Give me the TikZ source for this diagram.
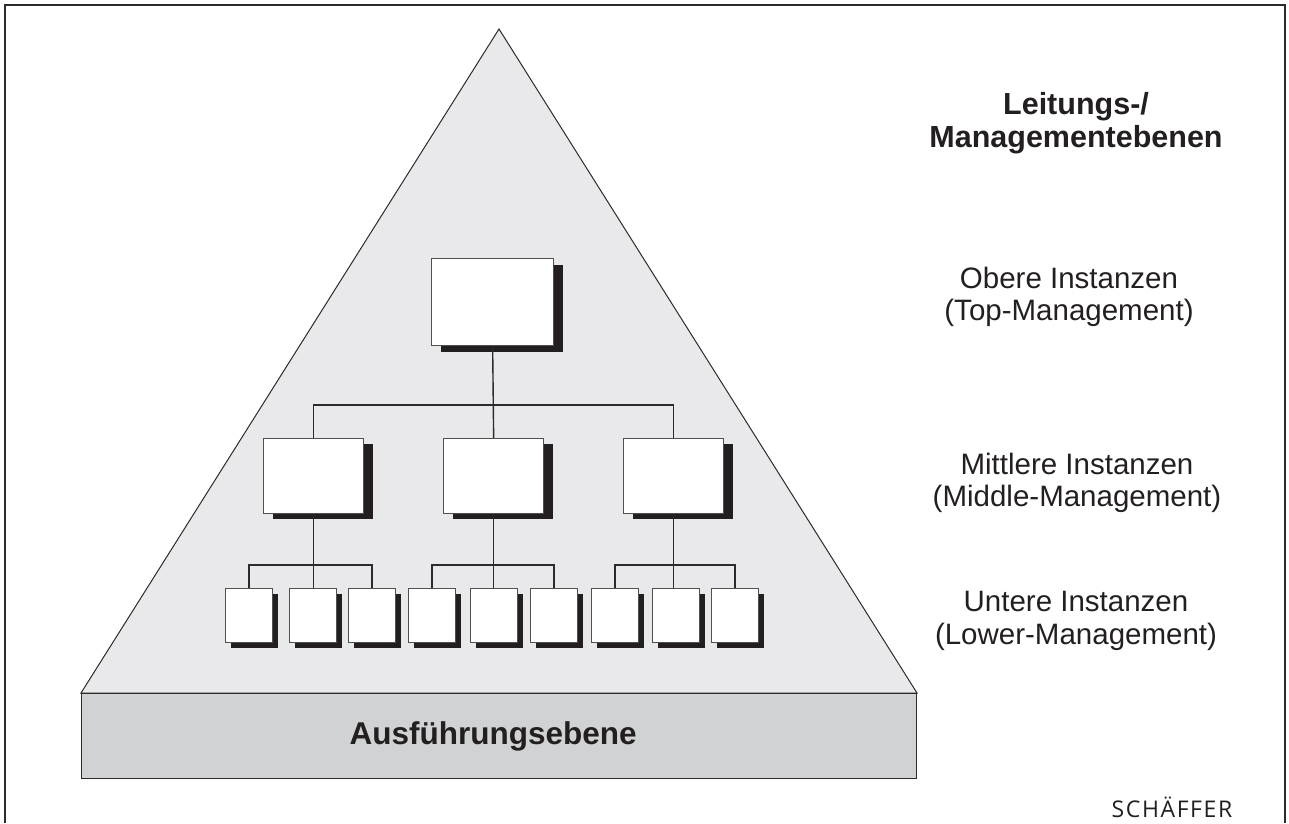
\documentclass[tikz,border=0pt]{standalone}
\usepackage{fontspec}
\setmainfont{Liberation Sans}
\newfontfamily\logofont[LetterSpace=7]{Open Sans}
\usetikzlibrary{shadows}
\definecolor{pyrfill}{HTML}{E9E9EB}
\definecolor{basefill}{HTML}{D1D2D4}
\definecolor{ink}{HTML}{2B2B2B}
\definecolor{textink}{HTML}{231F20}
\definecolor{boxedge}{HTML}{505050}
\definecolor{shade}{HTML}{231F20}

\begin{document}
\begin{tikzpicture}[x=1pt,y=-1pt,
  unit/.style={draw=boxedge, line width=1.3pt, fill=white, inner sep=0pt, anchor=north west},
  bigbox/.style={unit, minimum width=122pt, minimum height=87pt,
    drop shadow={shadow xshift=9pt, shadow yshift=-6pt, fill=shade, opacity=1}},
  midbox/.style={unit, minimum width=100pt, minimum height=75pt,
    drop shadow={shadow xshift=9pt, shadow yshift=-5pt, fill=shade, opacity=1}},
  smallbox/.style={unit, minimum width=47pt, minimum height=54pt,
    drop shadow={shadow xshift=5pt, shadow yshift=-5pt, fill=shade, opacity=1}},
  link/.style={draw=ink, line width=1.4pt},
  levellabel/.style={align=center, inner sep=0pt, font=\fontsize{29.5}{32.5}\selectfont, text=textink}]

  \useasboundingbox (0,0) rectangle (1289,823);

  % open frame
  \draw[ink, line width=2pt] (5,823) -- (5,5) -- (1285,5) -- (1285,823);

  % pyramid and its base
  \coordinate (apex) at (499,29);
  \coordinate (baseL) at (81,693);
  \coordinate (baseR) at (917,693);
  \filldraw[draw=ink, fill=pyrfill, line width=1pt] (apex) -- (baseR) -- (baseL) -- cycle;
  \node[draw=ink, fill=basefill, line width=1.3pt, inner sep=0pt, anchor=north west,
        minimum width=835pt, minimum height=85pt] (base) at (81,693) {};
  \node[inner sep=0pt, font=\fontsize{31.5}{34}\selectfont\bfseries, text=textink]
        (baselabel) at ([xshift=-6pt]base.center) {Ausführungsebene};

  % hierarchy boxes
  \node[bigbox] (top) at (431,258) {};
  \node[midbox] (m1) at (263,438) {};
  \node[midbox] (m2) at (443,438) {};
  \node[midbox] (m3) at (623,438) {};

  \node[smallbox] (s11) at (225,588) {};
  \node[smallbox] (s12) at (289,588) {};
  \node[smallbox] (s13) at (348,588) {};
  \node[smallbox] (s21) at (408,588) {};
  \node[smallbox] (s22) at (470,588) {};
  \node[smallbox] (s23) at (530,588) {};
  \node[smallbox] (s31) at (591,588) {};
  \node[smallbox] (s32) at (652,588) {};
  \node[smallbox] (s33) at (711,588) {};

  % connectors
  \coordinate (busA) at (0,405);
  \coordinate (busB) at (0,565);
  \draw[link] (top.south) -- (m2.north);
  \draw[link] (m1.north) |- (m3.north |- busA) -- (m3.north);
  \foreach \g in {1,2,3} {
    \draw[link] (m\g.south) -- (m\g.south |- s\g2.north);
    \draw[link] (s\g1.north) |- (s\g3.north |- busB) -- (s\g3.north);
  }

  % level labels
  \node[levellabel, font=\fontsize{30.5}{33}\selectfont\bfseries] (lead) at (1076,123) {Leitungs-/\\Managementebenen};
  \node[levellabel] (upper) at (1069,297) {Obere Instanzen\\(Top-Management)};
  \node[levellabel] (middle) at (1077,483) {Mittlere Instanzen\\(Middle-Management)};
  \node[levellabel] (lower) at (1076,621) {Untere Instanzen\\(Lower-Management)};

  % publisher mark
  \node[anchor=base, inner sep=0pt, font=\logofont\fontsize{23}{26}\selectfont, text=textink] (logo) at (1172,817) {SCHÄFFER};
\end{tikzpicture}
\end{document}
